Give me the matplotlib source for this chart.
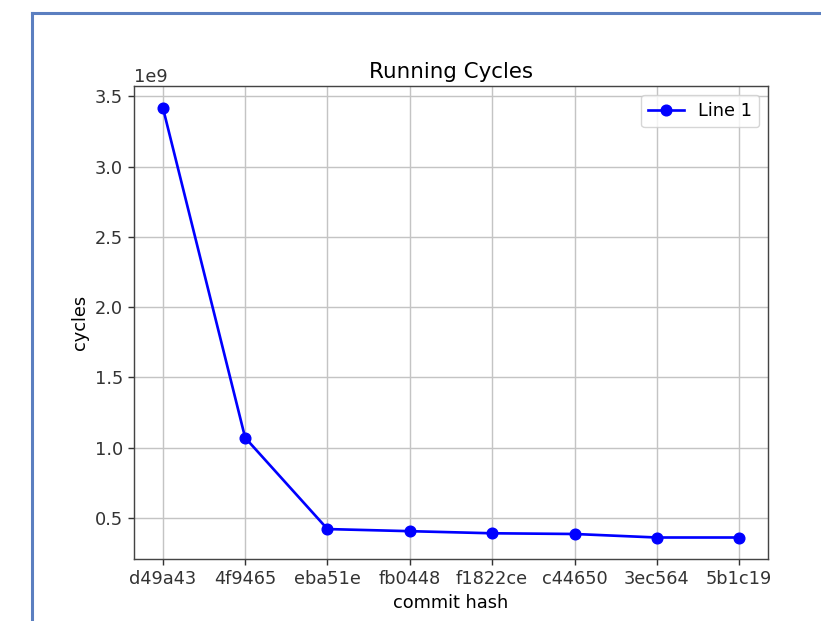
import matplotlib
matplotlib.use('Agg')
import matplotlib.pyplot as plt
from matplotlib.lines import Line2D

commits = ['d49a43', '4f9465', 'eba51e', 'fb0448', 'f1822ce', 'c44650',
           '3ec564', '5b1c19']
cycles = [3.42e9, 1.07e9, 0.42e9, 0.405e9, 0.39e9, 0.385e9, 0.36e9, 0.36e9]

W, H = 821, 621
s = 1.28  # screenshot scale of the original 640x480 figure

fig = plt.figure(figsize=(W / 100, H / 100), dpi=100)
plt.rcParams['font.size'] = 10 * s

ax = fig.add_axes([134 / W, (H - 559) / H, 634 / W, 473 / H])
ax.plot(commits, cycles, marker='o', color='blue', linewidth=1.5 * s,
        markersize=6 * s, label='Line 1')
ax.set_title('Running Cycles', fontsize=12 * s)
ax.set_xlabel('commit hash', fontsize=10 * s)
ax.set_ylabel('cycles', fontsize=10 * s)
ax.tick_params(labelsize=10 * s, width=0.8 * s, length=3.5 * s,
               colors='#333333')
ax.yaxis.get_offset_text().set_fontsize(10 * s)
ax.grid(True, linewidth=0.8 * s, color='#c4c4c4')
for sp in ax.spines.values():
    sp.set_linewidth(0.8 * s)
    sp.set_color('#444444')
ax.legend(loc='upper right', fontsize=10 * s)

# blue frame around the screenshot (left and top edges visible)
x0, y0 = 32 / W, (H - 12.5) / H
frame = dict(transform=fig.transFigure, color='#5b7fc0', linewidth=2.2)
fig.lines.append(Line2D([x0, x0], [0, y0], **frame))
fig.lines.append(Line2D([x0, 1], [y0, y0], **frame))

fig.savefig('out.png', dpi=100)
